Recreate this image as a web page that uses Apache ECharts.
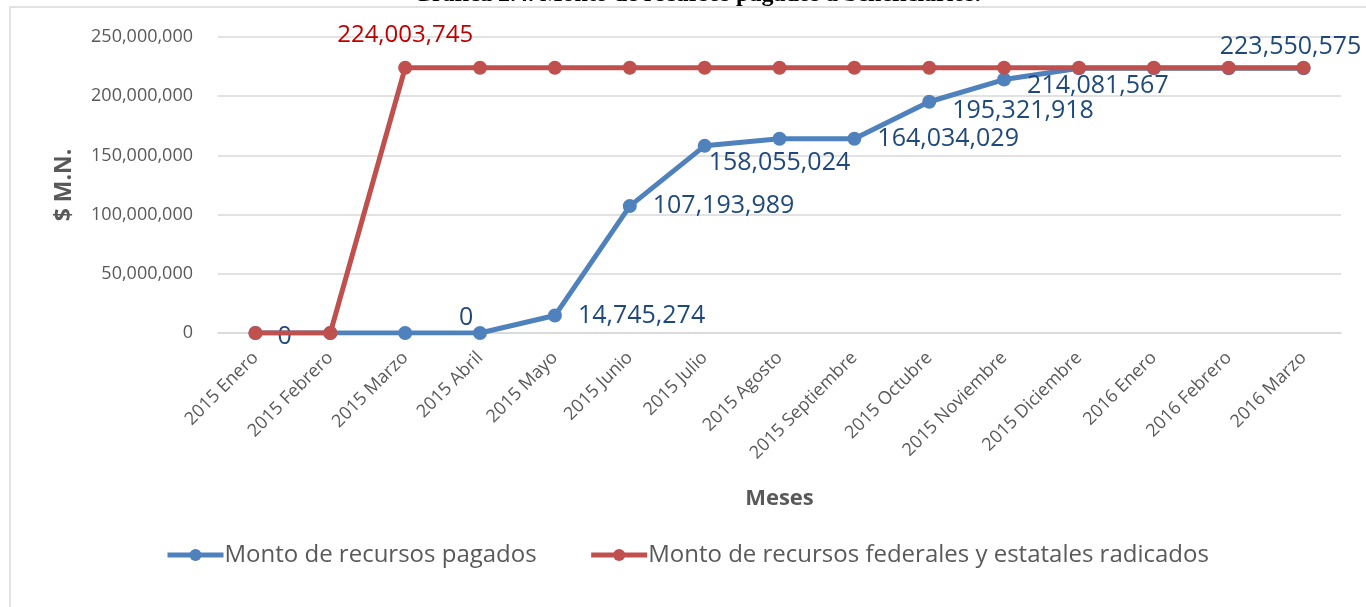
<!DOCTYPE html>
<html>
<head>
<meta charset="utf-8">
<style>
    html, body { margin: 0; padding: 0; background: #fff; }
    #chart { width: 1366px; height: 607px; }
</style>
<script src="https://cdn.jsdelivr.net/npm/echarts@6/dist/echarts.min.js"></script>
</head>
<body>
<div id="chart"></div>
<script>
// datos de la grafica
var meses = ['2015 Enero', '2015 Febrero', '2015 Marzo', '2015 Abril', '2015 Mayo', '2015 Junio', '2015 Julio',
    '2015 Agosto', '2015 Septiembre', '2015 Octubre', '2015 Noviembre', '2015 Diciembre',
    '2016 Enero', '2016 Febrero', '2016 Marzo'];
var pagados = [0, 0, 0, 0, 14745274, 107193989, 158055024, 164034029, 164034029, 195321918, 214081567,
    223550575, 223550575, 223550575, 223550575];
var radicados = [0, 0, 224003745, 224003745, 224003745, 224003745, 224003745, 224003745, 224003745,
    224003745, 224003745, 224003745, 224003745, 224003745, 224003745];
var yTicks = [0, 50000000, 100000000, 150000000, 200000000, 250000000];

var labelFont = 'Open Sans';
var fmt = function (v) { return Number(v).toLocaleString('en-US'); };

// etiquetas visibles de la serie azul (indice -> posicion)
var blueLabels = {
    0: { position: 'right', offset: [10, 4] },
    3: { position: 'top', offset: [-14, 9] },
    4: { position: 'right', distance: 16 },
    5: { position: 'right', distance: 16 },
    6: { position: 'right', offset: [-8, 17] },
    8: { position: 'right', distance: 16 },
    9: { position: 'right', distance: 16, offset: [0, 9] },
    10: { position: 'right', distance: 16, offset: [0, 6] },
    14: { position: 'top', distance: 8, offset: [-13, 6] }
};

var blueData = pagados.map(function (v, i) {
    var l = blueLabels[i];
    if (!l) return v;
    return { value: v, label: Object.assign({ show: true }, l) };
});
var redData = radicados.map(function (v, i) {
    if (i !== 2) return v;
    return { value: v, label: { show: true, position: 'top', distance: 14 } };
});

var chart = echarts.init(document.getElementById('chart'));
chart.setOption({
    animation: false,
    title: {
        text: 'Gráfica 2.4. Monto de recursos pagados a beneficiarios.',
        left: 692,
        textAlign: 'center',
        top: -22,
        textStyle: { fontFamily: 'Liberation Serif', fontWeight: 'bold', fontSize: 24, color: '#000' }
    },
    graphic: [{
        type: 'rect',
        shape: { x: 10, y: 7, width: 1400, height: 700 },
        style: { fill: 'none', stroke: '#d9d9d9', lineWidth: 1.5 },
        silent: true,
        z: -1
    }],
    grid: { left: 218, right: 25, top: 37, bottom: 274 },
    legend: {
        data: ['Monto de recursos pagados', 'Monto de recursos federales y estatales radicados'],
        left: 160,
        top: 538,
        itemWidth: 56,
        itemHeight: 15,
        itemGap: 52,
        lineStyle: { width: 5 },
        textStyle: { fontFamily: labelFont, fontSize: 24, color: '#595959', padding: [0, 0, 0, -4] }
    },
    xAxis: {
        type: 'category',
        data: meses,
        name: 'Meses',
        nameLocation: 'middle',
        nameGap: 155,
        nameTextStyle: { fontFamily: labelFont, fontWeight: 'bold', fontSize: 22, color: '#595959' },
        axisLine: { lineStyle: { color: '#d9d9d9', width: 1.5 } },
        axisTick: { show: false },
        axisLabel: { rotate: 45, interval: 0, margin: 22, fontFamily: labelFont, fontSize: 18, color: '#595959' }
    },
    yAxis: {
        type: 'value',
        min: yTicks[0],
        max: yTicks[yTicks.length - 1],
        interval: yTicks[1] - yTicks[0],
        name: '$ M.N.',
        nameLocation: 'middle',
        nameGap: 142,
        nameTextStyle: { fontFamily: labelFont, fontWeight: 'bold', fontSize: 23, color: '#595959' },
        axisLine: { show: false },
        axisTick: { show: false },
        axisLabel: { margin: 25, fontFamily: labelFont, fontSize: 18, color: '#595959', formatter: fmt },
        splitLine: { lineStyle: { color: '#d9d9d9', width: 1.5 } }
    },
    series: [{
        name: 'Monto de recursos pagados',
        type: 'line',
        data: blueData,
        symbol: 'circle',
        symbolSize: 14,
        color: '#4f81bd',
        lineStyle: { width: 5 },
        label: { show: false, fontFamily: labelFont, fontSize: 25, color: '#1f497d', formatter: function (p) { return fmt(p.value); } },
        z: 2
    }, {
        name: 'Monto de recursos federales y estatales radicados',
        type: 'line',
        data: redData,
        symbol: 'circle',
        symbolSize: 14,
        color: '#c0504d',
        lineStyle: { width: 5 },
        label: { show: false, fontFamily: labelFont, fontSize: 24, color: '#c00000', formatter: function (p) { return fmt(p.value); } },
        z: 3
    }]
});
</script>
</body>
</html>
